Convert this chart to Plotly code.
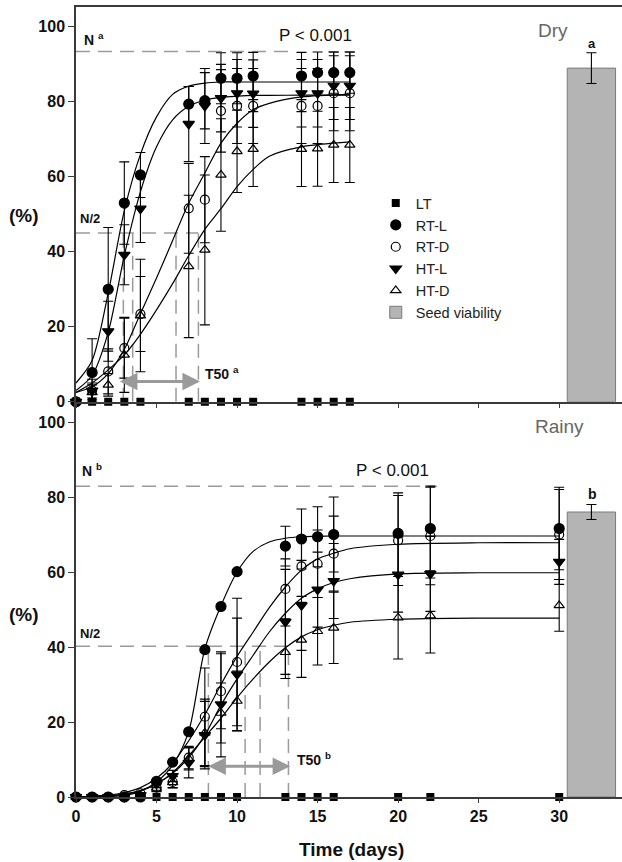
import plotly.graph_objects as go

# ---------------- DATA ----------------
# Dry season (top panel)
days_dry = [0, 1, 2, 3, 4, 7, 8, 9, 10, 11, 14, 15, 16, 17]
lt_dry = [0, 0, 0, 0, 0, 0, 0, 0, 0, 0, 0, 0, 0, 0]
rtl_dry = [0, 7.8, 30.0, 53.0, 60.5, 79.4, 80.3, 86.3, 86.3, 86.9, 86.9, 87.8, 87.8, 87.8]
rtl_dry_err = [0, 9, 16.5, 11, 6, 4.7, 7.5, 6.8, 6.8, 6.3, 6.3, 5.5, 5.5, 5.5]
rtd_dry = [0, 3, 8.1, 14.3, 23.4, 51.6, 53.9, 77.6, 78.9, 78.9, 78.9, 78.9, 82.3, 82.3]
rtd_dry_err = [0, 2, 6, 8, 10, 12, 11.5, 11, 10, 10, 10, 10, 10, 10]
htl_dry = [0, 3, 18.8, 39.2, 51.5, 74.1, 78.9, 81.0, 82.3, 82.2, 82.3, 82.3, 84.3, 84.3]
htl_dry_err = [0, 3, 8, 8, 9, 10, 10, 9, 9, 9, 9, 9, 9, 9]
htd_dry = [0, 2.5, 4.5, 12.5, 23.0, 36.1, 40.5, 60.5, 66.8, 67.4, 67.4, 67.5, 68.5, 68.5]
htd_dry_err = [0, 2, 3, 10, 15, 19, 20, 15, 11, 10, 10, 10, 10, 10]

# fitted curves, dry
curve_days_dry = [0, 1, 2, 3, 4, 5, 6, 7, 8, 9, 10, 11, 12, 14, 17]
fit_rtl_dry = [5, 11, 29, 51, 66, 76, 82, 84.2, 85, 85.3, 85.3, 85.3, 85.3, 85.3, 85.3]
fit_htl_dry = [3, 7, 18.5, 39, 56, 68, 75.2, 78.8, 80.5, 81.2, 81.5, 81.7, 81.7, 81.8, 81.8]
fit_rtd_dry = [2.5, 4, 7.5, 14, 23.5, 33, 43, 53, 61, 69, 74.3, 77.9, 79.6, 81.3, 82]
fit_htd_dry = [2.5, 5, 8.5, 12.5, 18, 24.5, 31.5, 39, 46, 51.5, 57.4, 62, 65.5, 68, 69.3]

# Rainy season (bottom panel)
days_rain = [0, 1, 2, 3, 4, 5, 6, 7, 8, 9, 10, 13, 14, 15, 16, 20, 22, 30]
lt_rain = [0, 0, 0, 0, 0, 0, 0, 0, 0, 0, 0, 0, 0, 0, 0, 0, 0, 0]
rtl_rain = [0, 0, 0, 0, 0, 4.2, 9.3, 17.4, 39.3, 50.8, 60.1, 66.9, 68.8, 69.4, 70.0, 70.3, 71.6, 71.6]
rtl_rain_err = [0, 0, 0, 0, 0, 0, 0, 0, 0, 0, 0, 5.3, 8, 8, 10, 10.8, 11.3, 11]
rtd_rain = [0, 0, 0, 0.5, 1, 2.5, 4, 10.5, 21.4, 28.2, 36.0, 55.5, 61.5, 62.2, 64.9, 68.4, 69.6, 70]
rtd_rain_err = [0, 0, 0, 0, 0, 1, 1.5, 3, 13, 10, 17, 8, 8, 9, 10, 12, 13, 12]
htl_rain = [0, 0, 0, 0, 0.5, 3.5, 5.6, 9.1, 16.5, 24.7, 32.7, 46.7, 51.1, 55.3, 57.6, 59.3, 59.5, 62.7]
htl_rain_err = [0, 0, 0, 0, 0, 1, 1.5, 4, 9, 14, 15, 14, 12, 10, 10, 10, 10, 6]
htd_rain = [0, 0, 0, 0, 0.3, 2.4, 3.9, 10.2, 17.1, 22.4, 25.6, 38.6, 41.9, 44.2, 45.1, 47.8, 48.4, 51.1]
htd_rain_err = [0, 0, 0, 0, 0, 1, 1.5, 3, 9, 8, 8, 7, 10, 9, 9.5, 11, 10, 6.9]

curve_days_rain = [0, 1, 2, 3, 4, 5, 6, 7, 8, 9, 10, 11, 12, 13, 14, 15, 16, 17, 20, 25, 30]
fit_rtl_rain = [0, 0, 0.1, 0.4, 1.5, 4, 8.5, 17.5, 39.5, 51, 60, 65.5, 68, 69, 69.4, 69.5, 69.6, 69.6, 69.6, 69.6, 69.6]
fit_rtd_rain = [0.1, 0.2, 0.5, 1.2, 2.5, 5, 9, 15, 22, 30, 37.5, 44, 50.5, 56, 60.5, 63.5, 65, 66.2, 67.4, 67.8, 67.8]
fit_htl_rain = [0, 0.1, 0.3, 0.8, 1.7, 3.5, 6.3, 10.5, 16.5, 24.5, 31.5, 37.8, 44, 49, 53, 55.5, 57.2, 58.2, 59.5, 59.8, 59.8]
fit_htd_rain = [0, 0.1, 0.3, 0.7, 1.7, 3.5, 6.5, 11, 16, 21, 26.5, 31.5, 36, 39.8, 42.7, 44.6, 45.8, 46.6, 47.4, 47.7, 47.7]

# seed viability bars
viab_pos = [32]
viab_dry = [89.0]
viab_dry_err = [4.1]
viab_rain = [76.0]
viab_rain_err = [2.0]

# reference levels
n_dry, half_dry = 93.4, 45.0
n_rain, half_rain = 82.9, 40.2
t50_dry = [2.94, 3.52, 6.21, 7.6]
t50_rain = [8.22, 10.5, 11.43, 13.19]
t50_dry_span = [2.63, 7.7]
t50_rain_span = [8.12, 13.3]

x_ticks = [0, 5, 10, 15, 20, 25, 30]
y_ticks = [0, 20, 40, 60, 80, 100]

# ---------------- STYLE ----------------
FONT = "Liberation Sans"
GRAY = "#9a9a9a"
AX = "#3a3a3a"
DASH = "14px,8px"

fig = go.Figure()

def err(arr):
    return dict(type="data", array=arr, visible=True, color="black", thickness=1.1, width=5)

def add_panel(days, lt, series, curves, curve_days, xa, ya, legend):
    # fitted curves
    for yv in curves:
        fig.add_trace(go.Scatter(x=curve_days, y=yv, mode="lines", xaxis=xa, yaxis=ya,
                                 line=dict(color="black", width=1.2, shape="spline", smoothing=0.8),
                                 showlegend=False, hoverinfo="skip"))
    fig.add_trace(go.Scatter(x=days, y=lt, mode="markers", name="LT", xaxis=xa, yaxis=ya,
                             marker=dict(symbol="square", size=8, color="black"),
                             cliponaxis=False, showlegend=legend, legendrank=1))
    for rank, (name, yv, ev, sym, size) in enumerate(series, start=2):
        fig.add_trace(go.Scatter(x=days, y=yv, mode="markers", name=name, xaxis=xa, yaxis=ya,
                                 error_y=err(ev),
                                 marker=dict(symbol=sym, size=size, color="black",
                                             line=dict(color="black", width=1.2)),
                                 cliponaxis=False, showlegend=legend, legendrank=rank))

add_panel(days_dry, lt_dry,
          [("RT-L", rtl_dry, rtl_dry_err, "circle", 10),
           ("RT-D", rtd_dry, rtd_dry_err, "circle-open", 9),
           ("HT-L", htl_dry, htl_dry_err, "triangle-down", 10),
           ("HT-D", htd_dry, htd_dry_err, "triangle-up-open", 9)],
          [fit_rtl_dry, fit_htl_dry, fit_rtd_dry, fit_htd_dry], curve_days_dry, "x", "y", True)

add_panel(days_rain, lt_rain,
          [("RT-L", rtl_rain, rtl_rain_err, "circle", 10),
           ("RT-D", rtd_rain, rtd_rain_err, "circle-open", 9),
           ("HT-L", htl_rain, htl_rain_err, "triangle-down", 10),
           ("HT-D", htd_rain, htd_rain_err, "triangle-up-open", 9)],
          [fit_rtl_rain, fit_rtd_rain, fit_htl_rain, fit_htd_rain], curve_days_rain, "x2", "y2", False)

fig.add_trace(go.Bar(x=viab_pos, y=viab_dry, width=3, name="Seed viability", xaxis="x", yaxis="y",
                     marker=dict(color="#b4b4b4", line=dict(color="#7a7a7a", width=1)),
                     error_y=dict(type="data", array=viab_dry_err, color="black", thickness=1.1, width=5),
                     showlegend=True, legendrank=7))
fig.add_trace(go.Bar(x=viab_pos, y=viab_rain, width=3, name="Seed viability", xaxis="x2", yaxis="y2",
                     marker=dict(color="#b4b4b4", line=dict(color="#7a7a7a", width=1)),
                     error_y=dict(type="data", array=viab_rain_err, color="black", thickness=1.1, width=5),
                     showlegend=False))

# ---------------- SHAPES ----------------
shapes = []
def dline(x0, y0, x1, y1, xr, yr):
    shapes.append(dict(type="line", x0=x0, y0=y0, x1=x1, y1=y1, xref=xr, yref=yr,
                       line=dict(color=GRAY, width=1.5, dash=DASH), layer="below"))

dline(0, n_dry, 13.3, n_dry, "x", "y")
dline(0, half_dry, max(t50_dry), half_dry, "x", "y")
for t in t50_dry:
    dline(t, 0, t, half_dry, "x", "y")
dline(0, n_rain, 22.4, n_rain, "x2", "y2")
dline(0, half_rain, max(t50_rain), half_rain, "x2", "y2")
for t in t50_rain:
    dline(t, 0, t, half_rain, "x2", "y2")

# ---------------- ANNOTATIONS ----------------
ann = []
def txt(x, y, s, xr, yr, size=14, bold=True, color="#111", xanchor="left"):
    ann.append(dict(x=x, y=y, xref=xr, yref=yr, text=s, showarrow=False, xanchor=xanchor,
                    yanchor="middle",
                    font=dict(family=FONT, size=size, color=color, weight="bold" if bold else "normal")))

txt(0.35, 96.8, "N <sup>a</sup>", "x", "y", size=14)
txt(0.1, 49.0, "N/2", "x", "y", size=13)
txt(7.9, 7.6, "T50 <sup>a</sup>", "x", "y", size=14)
txt(14.9, 97.6, "P < 0.001", "x", "y", size=17, bold=False, xanchor="center")
txt(29.6, 99.0, "Dry", "x", "y", size=19, bold=False, color="#666", xanchor="center")
txt(32.05, 95.6, "a", "x", "y", size=13, xanchor="center")

txt(0.25, 87.2, "N <sup>b</sup>", "x2", "y2", size=14)
txt(0.1, 43.6, "N/2", "x2", "y2", size=13)
txt(13.6, 10.2, "T50 <sup>b</sup>", "x2", "y2", size=14)
txt(19.65, 87.1, "P < 0.001", "x2", "y2", size=17, bold=False, xanchor="center")
txt(30.05, 98.7, "Rainy", "x2", "y2", size=19, bold=False, color="#666", xanchor="center")
txt(32.05, 80.9, "b", "x2", "y2", size=14, xanchor="center")

txt(-0.0952, 0.7356, "(%)", "paper", "paper", size=19, xanchor="center")
txt(-0.0952, 0.2309, "(%)", "paper", "paper", size=19, xanchor="center")
txt(0.504, -0.066, "Time (days)", "paper", "paper", size=19, xanchor="center")

for (x0, x1), yv, xr, yr in [(t50_dry_span, 5.4, "x", "y"), (t50_rain_span, 8.2, "x2", "y2")]:
    ann.append(dict(x=x1, y=yv, ax=x0, ay=yv, xref=xr, yref=yr, axref=xr, ayref=yr, text="",
                    showarrow=True, arrowhead=2, arrowside="end+start", arrowwidth=3.2,
                    arrowsize=1.1, arrowcolor=GRAY))

axis_common = dict(showline=True, linecolor=AX, linewidth=1.5, showgrid=False, zeroline=False,
                   ticks="outside", tickcolor=AX, tickwidth=1.3,
                   tickfont=dict(family=FONT, size=16, color="#111", weight="bold"))
SPLIT = 0.5003
fig.update_layout(
    width=622, height=862,
    margin=dict(l=76, r=0, t=7, b=64.5),
    paper_bgcolor="white", plot_bgcolor="white",
    showlegend=True,
    barmode="overlay",
    xaxis=dict(domain=[0, 1], anchor="y", range=[0, 33.9], tickvals=x_ticks, showticklabels=False,
               mirror=True, ticklen=4, **axis_common),
    yaxis=dict(domain=[SPLIT, 1], anchor="x", range=[0, 105.3], tickvals=y_ticks, ticklen=6, **axis_common),
    xaxis2=dict(domain=[0, 1], anchor="y2", range=[0, 33.9], tickvals=x_ticks, ticklen=4, **axis_common),
    yaxis2=dict(domain=[0, SPLIT], anchor="x2", range=[0, 105.4], tickvals=y_ticks, ticklen=6, **axis_common),
    legend=dict(x=0.549, y=0.772, xanchor="left", yanchor="top", bgcolor="rgba(0,0,0,0)",
                font=dict(family=FONT, size=14.5, color="#222"), traceorder="normal"),
    shapes=shapes, annotations=ann,
)

fig.write_html("out.html", config={"displayModeBar": False},
               post_script="document.body.style.margin='0';document.body.style.padding='0';")
